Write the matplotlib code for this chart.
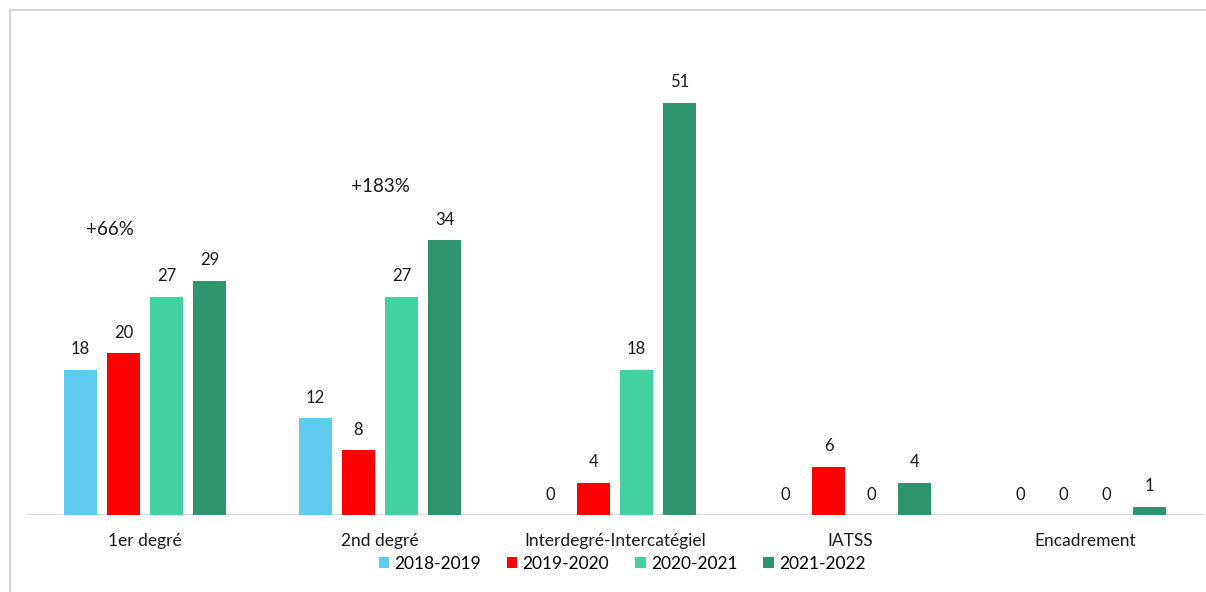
import numpy as np
import matplotlib.pyplot as plt
from matplotlib.lines import Line2D

categories = ['1er degré', '2nd degré', 'Interdegré-Intercatégiel', 'IATSS', 'Encadrement']
series = ['2018-2019', '2019-2020', '2020-2021', '2021-2022']
v_2018 = [18, 12, 0, 0, 0]
v_2019 = [20, 8, 4, 6, 0]
v_2020 = [27, 27, 18, 0, 0]
v_2021 = [29, 34, 51, 4, 1]
colors = ['#5ECBEF', '#FF0000', '#43D1A2', '#2E946E']

plt.rcParams['font.family'] = ['Lato', 'DejaVu Sans']

fig = plt.figure(figsize=(12.06, 5.92), dpi=100)
ax = fig.add_axes([0.0228, 0.130, 0.9744, 0.819])

x = np.arange(len(categories))
width = 0.14
step = 0.183
for i, (name, vals, c) in enumerate(zip(series, [v_2018, v_2019, v_2020, v_2021], colors)):
    pos = x + (i - 1.5) * step
    ax.bar(pos, vals, width, color=c, label=name)
    for p, v in zip(pos, vals):
        ax.annotate(str(v), (p, v), xytext=(0, 9), textcoords='offset points',
                    ha='center', va='bottom', fontsize=12, color='#1a1a1a')

ax.text(-0.15, 35.3, '+66%', ha='center', va='center', fontsize=13.5, color='#1a1a1a')
ax.text(1.0, 40.6, '+183%', ha='center', va='center', fontsize=13.5, color='#1a1a1a')

ax.set_xlim(-0.5, len(categories) - 0.5)
ax.set_ylim(0, 60)
ax.set_yticks([])
ax.set_xticks(x)
ax.set_xticklabels(categories, fontsize=12.5, color='#1a1a1a')
ax.tick_params(axis='x', length=0, pad=13)
ax.set_frame_on(False)
ax.axhline(0, color='#D9D9D9', lw=1.5, zorder=0.5)

ax.legend(loc='upper center', bbox_to_anchor=(0.506, -0.07), ncol=4, frameon=False,
          fontsize=12.5, handlelength=0.6, handleheight=0.6, handletextpad=0.3,
          columnspacing=1.5, borderaxespad=0)

# light grey frame, only top and left edges visible
x0 = 10 / 1206
y0 = 1 - 10 / 592
fig.lines.append(Line2D([x0, 1.01], [y0, y0], transform=fig.transFigure, color='#D9D9D9', lw=1.5))
fig.lines.append(Line2D([x0, x0], [-0.01, y0], transform=fig.transFigure, color='#D9D9D9', lw=1.5))

fig.savefig('out.png', dpi=100)
